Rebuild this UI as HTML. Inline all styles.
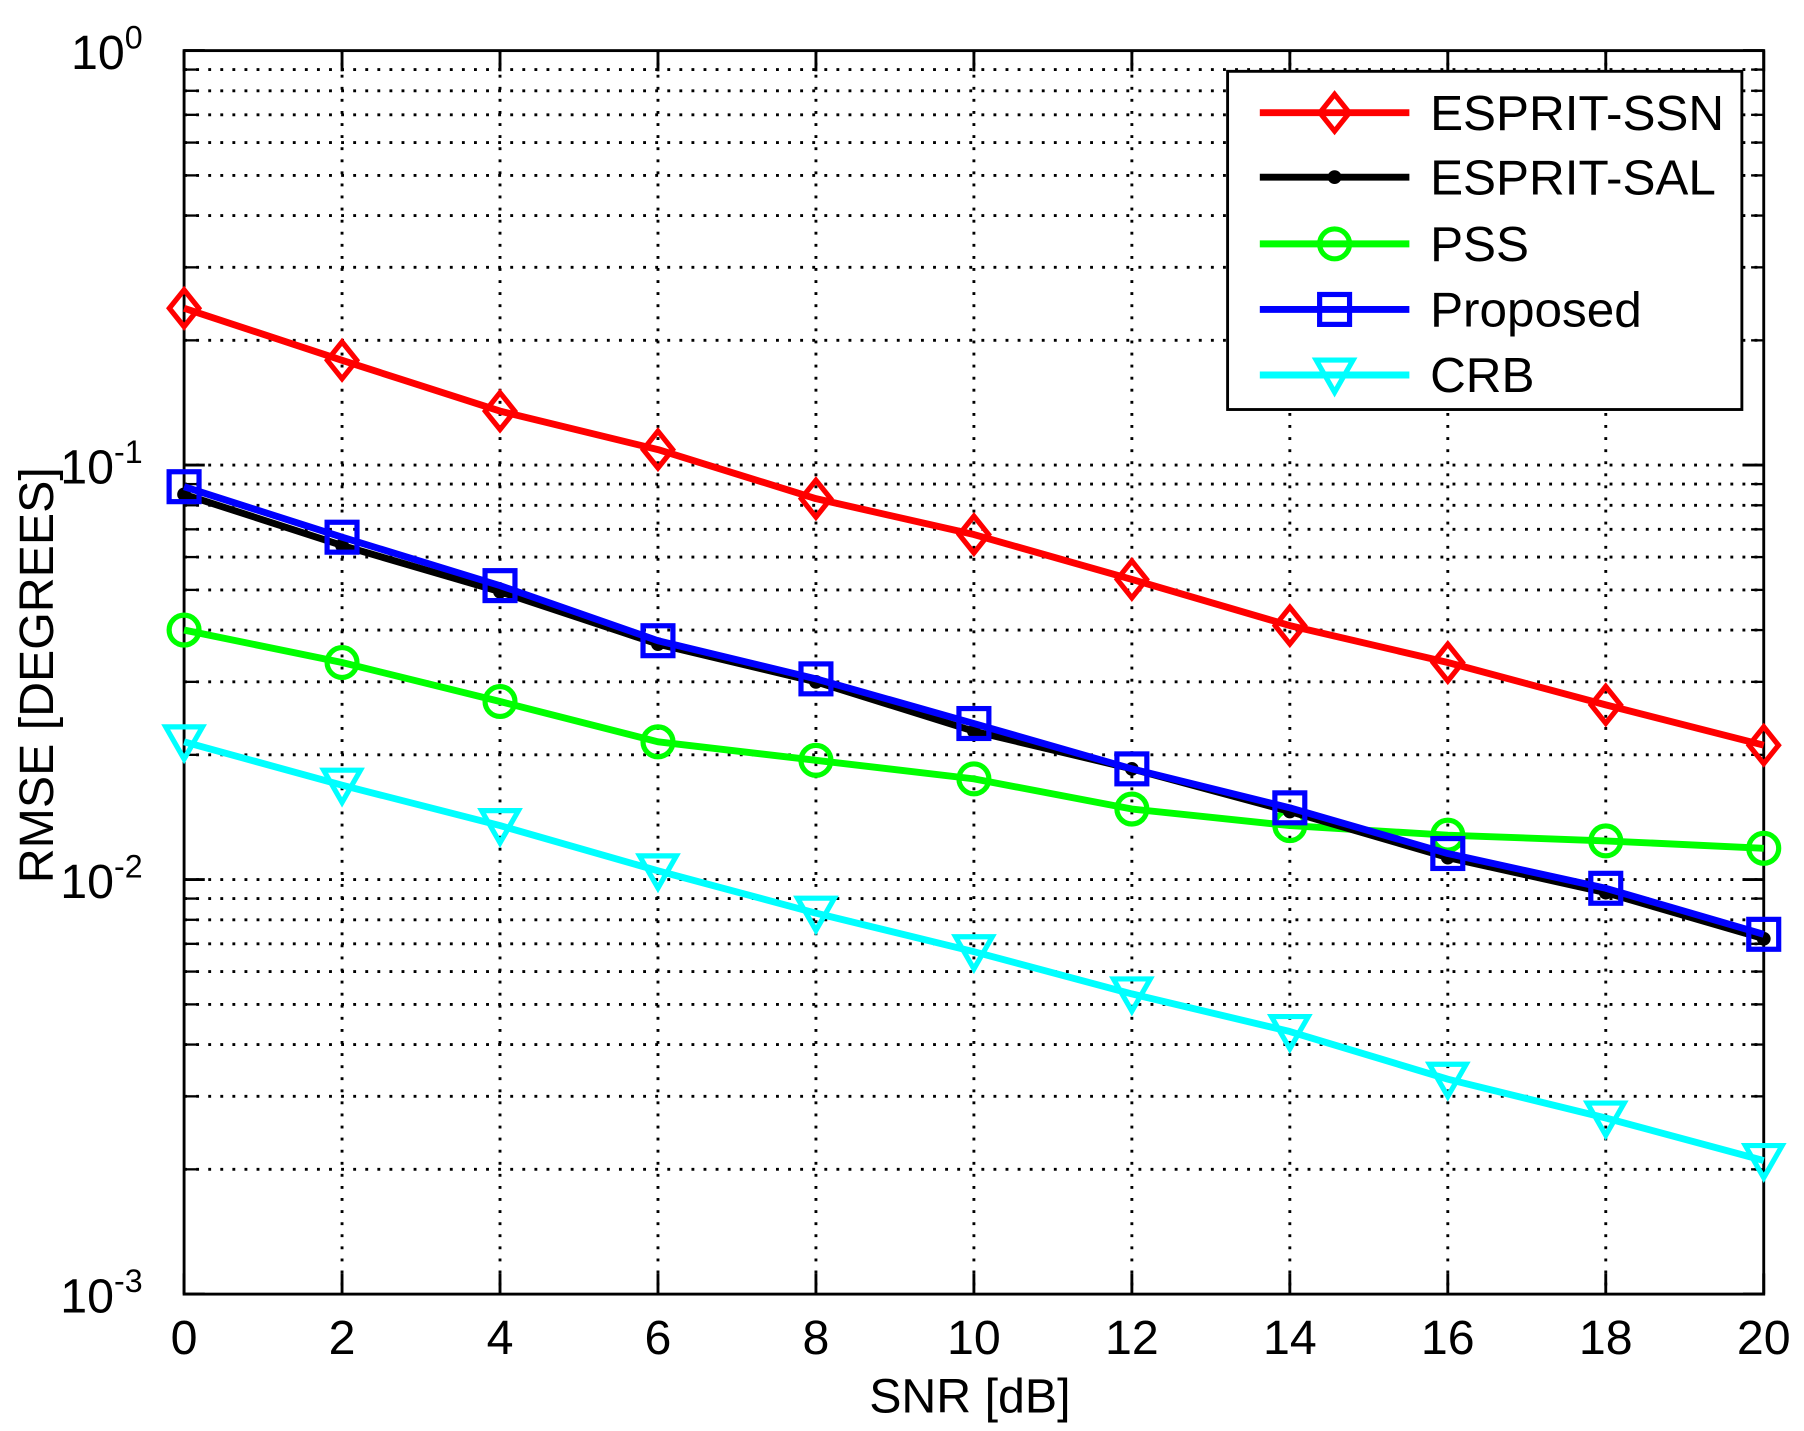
<!DOCTYPE html>
<html><head><meta charset="utf-8"><style>
html,body{margin:0;padding:0;background:#fff;}
svg{display:block;font-family:"Liberation Sans",sans-serif;}
</style></head><body>
<svg id="chart" width="1804" height="1431" viewBox="0 0 1568 1244" preserveAspectRatio="none" xmlns="http://www.w3.org/2000/svg"></svg>
<script>
const snr = [0,2,4,6,8,10,12,14,16,18,20];
const xTicks = [0,2,4,6,8,10,12,14,16,18,20];
const yDecades = [0,-1,-2,-3];
const ssn = [0.239,0.179,0.135,0.109,0.083,0.068,0.053,0.041,0.0334,0.0264,0.0211];
const sal = [0.085,0.064,0.0495,0.037,0.030,0.0228,0.0185,0.0146,0.0113,0.0093,0.0072];
const pss = [0.040,0.0334,0.0269,0.0215,0.0194,0.0175,0.0148,0.0135,0.0128,0.0124,0.0119];
const proposed = [0.0887,0.067,0.0512,0.0377,0.0305,0.0238,0.0185,0.0149,0.01156,0.00953,0.00738];
const crb = [0.0215,0.0169,0.0135,0.0105,0.0083,0.0067,0.0053,0.0043,0.0033,0.00266,0.0021];

const L=160,R=1533,T=44,B=1125;
const xs=v=>L+(v-0)/(20-0)*(R-L);
const ys=v=>T+(0-Math.log10(v))/3*(B-T);
const svg=document.getElementById('chart');
const NS='http://www.w3.org/2000/svg';
function mk(tag,attrs,parent){const e=document.createElementNS(NS,tag);for(const k in attrs)e.setAttribute(k,attrs[k]);(parent||svg).appendChild(e);return e;}

const grid=mk('g',{});


xTicks.forEach(t=>{if(t>0&&t<20)mk('line',{x1:xs(t),x2:xs(t),y1:T,y2:B,stroke:'#000','stroke-width':2.5,'stroke-dasharray':'2.5 8'},grid);});
for(let d=-3;d<0;d++){for(let m=1;m<=9;m++){const v=m*Math.pow(10,d);const y=ys(v);if(y<=T+1||y>=B-1)continue;
mk('line',{x1:L,x2:R,y1:y,y2:y,stroke:'#000','stroke-width':2.5,'stroke-dasharray':'2.5 8'},grid);
mk('line',{x1:L,x2:L+11,y1:y,y2:y,stroke:'#000','stroke-width':2},grid);
mk('line',{x1:R-11,x2:R,y1:y,y2:y,stroke:'#000','stroke-width':2},grid);}}
xTicks.forEach(t=>{mk('line',{x1:xs(t),x2:xs(t),y1:B,y2:B-18,stroke:'#000','stroke-width':2.5},grid);mk('line',{x1:xs(t),x2:xs(t),y1:T,y2:T+18,stroke:'#000','stroke-width':2.5},grid);});
yDecades.forEach(d=>{const y=ys(Math.pow(10,d));mk('line',{x1:L,x2:L+18,y1:y,y2:y,stroke:'#000','stroke-width':2.5},grid);mk('line',{x1:R-18,x2:R,y1:y,y2:y,stroke:'#000','stroke-width':2.5},grid);});

const box=mk('rect',{x:L,y:T,width:R-L,height:B-T,fill:'none',stroke:'#000','stroke-width':2.5});



xTicks.forEach(t=>{const e=mk('text',{x:xs(t),y:1177,'font-size':42,'text-anchor':'middle'});e.textContent=t;

});
yDecades.forEach(d=>{const y=ys(Math.pow(10,d));const e=mk('text',{x:124,y:y+16,'font-size':42,'text-anchor':'end'});
e.innerHTML='10<tspan dy="-18" font-size="28">'+d+'</tspan>';

});
const xl=mk('text',{x:843,y:1228,'font-size':42,'text-anchor':'middle'});xl.textContent='SNR [dB]';


const yl=mk('text',{x:0,y:0,'font-size':42,'text-anchor':'middle',transform:'translate(46,587) rotate(-90)'});yl.textContent='RMSE [DEGREES]';



function marker(g,type,x,y,color){
 const s=16,sw=4.5;
 if(type==='diamond')mk('polygon',{points:`${x},${y-s} ${x+s*0.8},${y} ${x},${y+s} ${x-s*0.8},${y}`,fill:'none',stroke:color,'stroke-width':sw},g);
 else if(type==='dot')mk('circle',{cx:x,cy:y,r:6,fill:color},g);
 else if(type==='circle')mk('circle',{cx:x,cy:y,r:13,fill:'none',stroke:color,'stroke-width':sw},g);
 else if(type==='square')mk('rect',{x:x-13,y:y-13,width:26,height:26,fill:'none',stroke:color,'stroke-width':sw},g);
 else if(type==='tri')mk('polygon',{points:`${x-16},${y-13} ${x+16},${y-13} ${x},${y+15}`,fill:'none',stroke:color,'stroke-width':sw},g);
}
const series=[
 {name:'ESPRIT-SSN',data:ssn,color:'#ff0000',m:'diamond',id:'series-esprit-ssn'},
 {name:'ESPRIT-SAL',data:sal,color:'#000000',m:'dot',id:'series-esprit-sal'},
 {name:'PSS',data:pss,color:'#00ff00',m:'circle',id:'series-pss'},
 {name:'Proposed',data:proposed,color:'#0000ff',m:'square',id:'series-proposed'},
 {name:'CRB',data:crb,color:'#00ffff',m:'tri',id:'series-crb'}];
const order=[0,2,4,1,3];
order.forEach(i=>{const s=series[i];const g=mk('g',{});


mk('polyline',{points:s.data.map((v,j)=>xs(snr[j])+','+ys(v)).join(' '),fill:'none',stroke:s.color,'stroke-width':6,'stroke-linejoin':'round'},g);
s.data.forEach((v,j)=>marker(g,s.m,xs(snr[j]),ys(v),s.color));});

const lg=mk('g',{});


mk('rect',{x:1067,y:62,width:447,height:294,fill:'#fff',stroke:'#000','stroke-width':2.5},lg);
const ly=[98,154,212,269,326];
series.forEach((s,i)=>{const e=mk('g',{},lg);


mk('line',{x1:1095,x2:1225,y1:ly[i],y2:ly[i],stroke:s.color,'stroke-width':6},e);
marker(e,s.m,1160,ly[i],s.color);
const t=mk('text',{x:1243,y:ly[i]+15,'font-size':43},e);t.textContent=s.name;});
</script>
</body></html>
